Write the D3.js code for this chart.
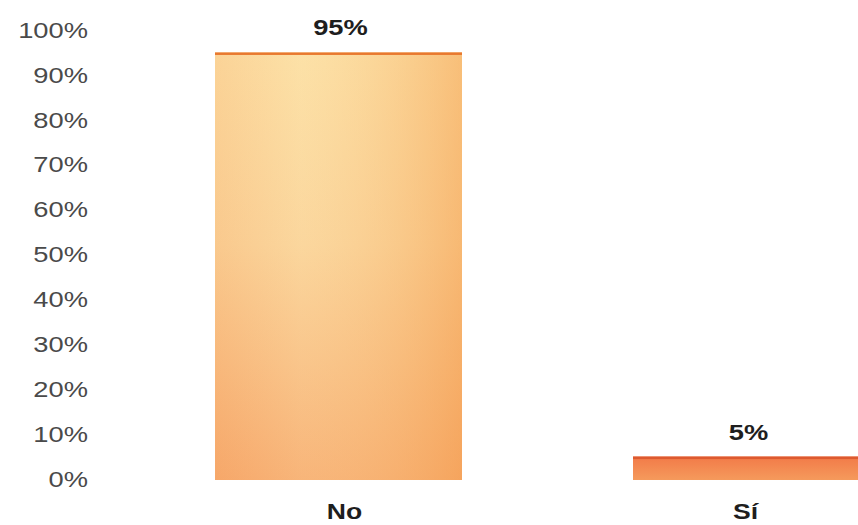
<!DOCTYPE html>
<html>
<head>
<meta charset="utf-8">
<script src="https://cdn.jsdelivr.net/npm/d3@7"></script>
<style>
  html, body { margin: 0; padding: 0; background: #ffffff; }
  svg { display: block; }
</style>
</head>
<body>
<svg id="chart" width="858" height="525"></svg>
<script>
const categories = ["No", "Sí"];
const values = [95, 5];
const valueLabels = ["95%", "5%"];
const tickValues = [0, 10, 20, 30, 40, 50, 60, 70, 80, 90, 100];
const tickLabels = ["0%", "10%", "20%", "30%", "40%", "50%", "60%", "70%", "80%", "90%", "100%"];

const svg = d3.select("#chart");
const SX = 1.27; // horizontal text stretch seen in the reference

const y = d3.scaleLinear().domain([0, 100]).range([479, 30]);
const x0 = d3.scaleBand().domain(categories).range([215, 880])
  .paddingInner(1 - 247 / 418).paddingOuter(0).align(0);

const defs = svg.append("defs");
const gNo = defs.append("linearGradient").attr("id", "gNo").attr("x1", 0).attr("y1", 0).attr("x2", 0).attr("y2", 1);
gNo.append("stop").attr("offset", "0%").attr("stop-color", "#fcdfa4");
gNo.append("stop").attr("offset", "45%").attr("stop-color", "#fad197");
gNo.append("stop").attr("offset", "100%").attr("stop-color", "#f6a467");
const gNoH = defs.append("linearGradient").attr("id", "gNoH").attr("x1", 0).attr("y1", 0).attr("x2", 1).attr("y2", 0);
gNoH.append("stop").attr("offset", "0%").attr("stop-color", "#f7b070").attr("stop-opacity", 0.25);
gNoH.append("stop").attr("offset", "35%").attr("stop-color", "#fde7b0").attr("stop-opacity", 0.25);
gNoH.append("stop").attr("offset", "100%").attr("stop-color", "#f5a455").attr("stop-opacity", 0.55);
const gSi = defs.append("linearGradient").attr("id", "gSi").attr("x1", 0).attr("y1", 0).attr("x2", 0).attr("y2", 1);
gSi.append("stop").attr("offset", "0%").attr("stop-color", "#f27a48");
gSi.append("stop").attr("offset", "100%").attr("stop-color", "#f59a5c");

const data = categories.map((c, i) => ({ c, v: values[i], label: valueLabels[i] }));

// axis labels
svg.append("g").selectAll("text").data(tickValues).enter().append("text")
  .attr("transform", (d) => `translate(88,${y(d)}) scale(${SX},1)`)
  .attr("text-anchor", "end")
  .attr("dy", "0.36em")
  .attr("font-family", "Liberation Sans, Arial, sans-serif")
  .attr("font-size", 21.5)
  .attr("fill", "#4a4a4a")
  .text((d, i) => tickLabels[i]);

// bars
const bars = svg.append("g");
bars.selectAll("rect.base").data(data).enter().append("rect")
  .attr("class", "base")
  .attr("x", d => x0(d.c))
  .attr("y", d => y(d.v))
  .attr("width", x0.bandwidth())
  .attr("height", d => y(0) - y(d.v) + 1)
  .attr("fill", (d, i) => i === 0 ? "url(#gNo)" : "url(#gSi)");
bars.selectAll("rect.over").data(data.filter((d, i) => i === 0)).enter().append("rect")
  .attr("class", "over")
  .attr("x", d => x0(d.c))
  .attr("y", d => y(d.v))
  .attr("width", x0.bandwidth())
  .attr("height", d => y(0) - y(d.v) + 1)
  .attr("fill", "url(#gNoH)");
bars.selectAll("rect.top").data(data).enter().append("rect")
  .attr("class", "top")
  .attr("x", d => x0(d.c))
  .attr("y", d => y(d.v))
  .attr("width", x0.bandwidth())
  .attr("height", 2.5)
  .attr("fill", (d, i) => i === 0 ? "#e8782f" : "#dd5a30");

// value labels
svg.append("g").selectAll("text").data(data).enter().append("text")
  .attr("transform", d => `translate(${x0(d.c) + x0.bandwidth() / 2 - (d.c === "Sí" ? 8 : -2)},${y(d.v) - 17}) scale(${SX},1)`)
  .attr("text-anchor", "middle")
  .attr("font-family", "Liberation Sans, Arial, sans-serif")
  .attr("font-weight", "bold")
  .attr("font-size", 21.5)
  .attr("fill", "#1e1e1e")
  .text(d => d.label);

// category labels
svg.append("g").selectAll("text").data(data).enter().append("text")
  .attr("transform", d => `translate(${x0(d.c) + x0.bandwidth() / 2 + (d.c === "Sí" ? -11 : 6)},519) scale(${SX * 0.93},1)`)
  .attr("text-anchor", "middle")
  .attr("font-family", "Liberation Sans, Arial, sans-serif")
  .attr("font-weight", "bold")
  .attr("font-size", 22.5)
  .attr("fill", "#1e1e1e")
  .text(d => d.c);
</script>
</body>
</html>
